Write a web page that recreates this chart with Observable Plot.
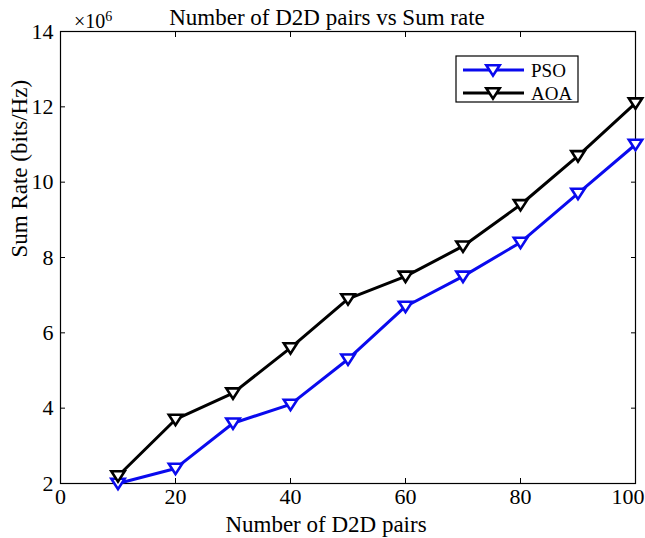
<!DOCTYPE html>
<html>
<head>
<meta charset="utf-8">
<script src="https://cdn.jsdelivr.net/npm/d3@7"></script>
<script src="https://cdn.jsdelivr.net/npm/@observablehq/plot@0.6"></script>
<style>
  html, body { margin: 0; padding: 0; background: #fff; }
  #chart svg { display: block; }
</style>
</head>
<body>
<div id="chart"></div>
<script>
// Number of D2D pairs on the x axis
const pairs = [10, 20, 30, 40, 50, 60, 70, 80, 90, 100];
// Sum rate in units of 10^6 bits/Hz
const psoRate = [2.0, 2.4, 3.6, 4.1, 5.3, 6.7, 7.5, 8.4, 9.7, 11.0];
const aoaRate = [2.2, 3.7, 4.4, 5.6, 6.9, 7.5, 8.3, 9.4, 10.7, 12.1];
const seriesNames = ["PSO", "AOA"];
const seriesColors = ["#0a0aee", "#000000"];
const xTicks = [0, 20, 40, 60, 80, 100];
const yTicks = [2, 4, 6, 8, 10, 12, 14];

const rows = [];
[psoRate, aoaRate].forEach((vals, s) => {
  pairs.forEach((p, i) => rows.push({pairs: p, rate: vals[i], series: seriesNames[s]}));
});

// Downward-pointing triangle marker
const triangleDown = {
  draw(context, size) {
    const r = Math.sqrt(size / 1.3);
    context.moveTo(-r, -r * 0.7);
    context.lineTo(r, -r * 0.7);
    context.lineTo(0, r * 0.85);
    context.closePath();
  }
};

const font = "'Liberation Serif', 'Times New Roman', serif";
const noText = () => "";
const lastTick = xTicks[xTicks.length - 1];

const marks = [
  Plot.frame({stroke: "black", strokeWidth: 1.2}),
  // tick labels (the last x label is pulled inside the page edge)
  Plot.axisX(xTicks.slice(0, -1), {anchor: "bottom", tickSize: 0, tickPadding: 5, label: null, fontSize: 22}),
  Plot.axisX([lastTick], {anchor: "bottom", tickSize: 0, tickPadding: 5, label: null, fontSize: 22, textAnchor: "end", dx: 9}),
  Plot.axisY(yTicks, {anchor: "left", tickSize: 0, tickPadding: 7, label: null, fontSize: 22}),
  // inward tick marks on all four sides
  Plot.axisX(xTicks, {anchor: "bottom", tickSize: -5, tickFormat: noText, label: null}),
  Plot.axisX(xTicks, {anchor: "top", tickSize: -5, tickFormat: noText, label: null}),
  Plot.axisY(yTicks, {anchor: "left", tickSize: -5, tickFormat: noText, label: null}),
  Plot.axisY(yTicks, {anchor: "right", tickSize: -5, tickFormat: noText, label: null})
];

seriesNames.forEach((name, s) => {
  const data = rows.filter(d => d.series === name);
  marks.push(
    Plot.line(data, {x: "pairs", y: "rate", stroke: seriesColors[s], strokeWidth: 3}),
    Plot.dot(data, {x: "pairs", y: "rate", symbol: triangleDown, r: 4.3, stroke: seriesColors[s], fill: "white", strokeWidth: 2.6})
  );
});

marks.push(
  Plot.text(["Number of D2D pairs vs Sum rate"], {frameAnchor: "top", dx: -21, dy: -13.5, fontSize: 23, lineAnchor: "middle"}),
  Plot.text(["Number of D2D pairs"], {frameAnchor: "bottom", dx: -22, dy: 41.5, fontSize: 23, lineAnchor: "middle"}),
  Plot.text(["Sum Rate (bits/Hz)"], {frameAnchor: "left", dx: -41, dy: 0, rotate: -90, fontSize: 23, lineAnchor: "middle"})
);

const chart = Plot.plot({
  width: 645,
  height: 538,
  marginLeft: 60,
  marginRight: 10,
  marginTop: 31,
  marginBottom: 55,
  style: {fontFamily: font, fontSize: "22px", color: "black", background: "white", overflow: "visible"},
  x: {domain: [0, 100]},
  y: {domain: [2, 14]},
  marks
});

// exponent marker above the y axis
const svg = d3.select(chart);
const expo = svg.append("text")
  .attr("x", 74).attr("y", 28).attr("text-anchor", "start")
  .attr("font-family", font).attr("font-size", 20).attr("fill", "black");
expo.append("tspan").text("×10");
expo.append("tspan").attr("dy", -7).attr("font-size", 14).text("6");

// legend box in the upper right of the frame
const lg = svg.append("g").attr("transform", "translate(456,56)");
lg.append("rect").attr("width", 122).attr("height", 46)
  .attr("fill", "white").attr("stroke", "black").attr("stroke-width", 1.2);
seriesNames.forEach((name, i) => {
  const cy = 14 + i * 23;
  lg.append("line").attr("x1", 7).attr("x2", 68).attr("y1", cy).attr("y2", cy)
    .attr("stroke", seriesColors[i]).attr("stroke-width", 3);
  lg.append("path").attr("transform", `translate(37,${cy})`)
    .attr("d", d3.symbol(triangleDown, 4.3 * 4.3 * Math.PI)())
    .attr("fill", "white").attr("stroke", seriesColors[i]).attr("stroke-width", 2.6);
  lg.append("text").attr("x", 75).attr("y", cy).attr("dy", "0.35em").attr("text-anchor", "start")
    .attr("font-family", font).attr("font-size", 19).attr("fill", "black").text(name);
});

document.getElementById("chart").appendChild(chart);
</script>
</body>
</html>
